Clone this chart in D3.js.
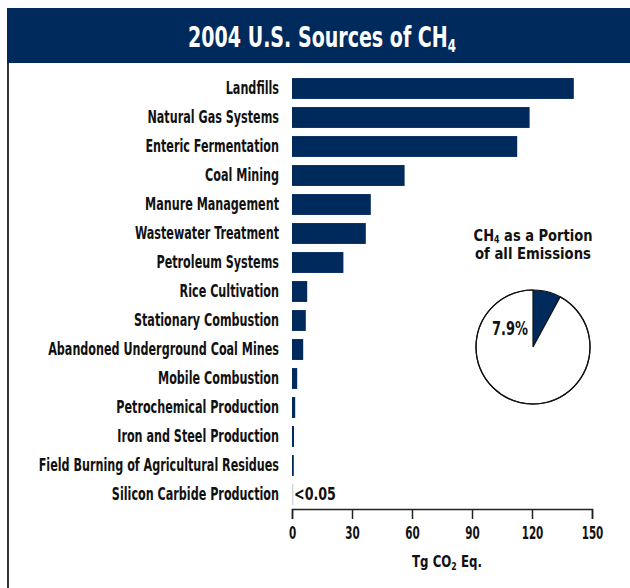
<!DOCTYPE html>
<html>
<head>
<meta charset="utf-8">
<script src="https://cdn.jsdelivr.net/npm/d3@7"></script>
<style>
  body { margin: 0; background: #fff; }
  svg text { font-family: "Liberation Sans Narrow", "DejaVu Sans Condensed", sans-serif; font-weight: bold; }
</style>
</head>
<body>
<div id="chart"></div>
<script>
// CH4 sources 2004, Tg CO2 Eq.
var sources = ["Landfills", "Natural Gas Systems", "Enteric Fermentation", "Coal Mining",
  "Manure Management", "Wastewater Treatment", "Petroleum Systems", "Rice Cultivation",
  "Stationary Combustion", "Abandoned Underground Coal Mines", "Mobile Combustion",
  "Petrochemical Production", "Iron and Steel Production",
  "Field Burning of Agricultural Residues", "Silicon Carbide Production"];
var values = [140.9, 118.8, 112.6, 56.3, 39.4, 36.9, 25.7, 7.6, 6.9, 5.6, 2.6, 1.6, 1.0, 0.9, 0.04];
var xTicks = [0, 30, 60, 90, 120, 150];
var pieShare = [7.9, 92.1];   // CH4 share of all emissions, %

var navy = "#002a5c";

var svg = d3.select("#chart").append("svg").attr("width", 630).attr("height", 588);

// squeeze text horizontally (condensed look), keeping its anchor point
function squeeze(t, sx) {
  var x0 = +t.attr("x") || 0, y0 = +t.attr("y") || 0;
  t.attr("transform", "translate(" + x0 + "," + y0 + ") scale(" + sx + ",1) translate(" + (-x0) + "," + (-y0) + ")");
}
function fitWidth(t, w) {
  var bw = t.node().getBBox().width;
  squeeze(t, w / bw);
}

// banner
svg.append("rect").attr("x", 7).attr("y", 8).attr("width", 630).attr("height", 55).attr("fill", navy);
var title = svg.append("text").attr("x", 322).attr("y", 47).attr("text-anchor", "middle")
  .attr("fill", "#fff").attr("font-size", "29px");
title.append("tspan").text("2004 U.S. Sources of CH");
title.append("tspan").attr("font-size", "18px").attr("dy", 5).text("4");
fitWidth(title, 268);

// left frame line
svg.append("line").attr("x1", 8).attr("x2", 8).attr("y1", 63).attr("y2", 588)
  .attr("stroke", "#000").attr("stroke-width", 1.6);

var x = d3.scaleLinear().domain([0, 150]).range([292, 592]);
var y = d3.scaleBand().domain(sources).range([74, 509]).paddingInner(0.28).paddingOuter(0.14);

var data = sources.map(function (s, i) { return { name: s, value: values[i] }; });

svg.selectAll(".bar").data(data).enter().append("rect")
  .attr("class", "bar")
  .attr("x", x(0))
  .attr("y", function (d) { return y(d.name); })
  .attr("width", function (d) { return Math.max(x(d.value) - x(0), 1.5); })
  .attr("height", y.bandwidth())
  .attr("fill", function (d) { return d.value < 0.05 ? "#d3d8e0" : navy; });

var labels = svg.selectAll(".lbl").data(data).enter().append("text")
  .attr("class", "lbl")
  .attr("x", 279)
  .attr("y", function (d) { return y(d.name) + y.bandwidth() / 2 + 6; })
  .attr("text-anchor", "end")
  .attr("font-size", "17.5px")
  .attr("fill", "#111")
  .text(function (d) { return d.name; });
// common squeeze taken from the longest label
var longest = labels.filter(function (d) { return d.name === "Abandoned Underground Coal Mines"; });
var lblScale = 231 / longest.node().getBBox().width;
labels.each(function () { squeeze(d3.select(this), lblScale); });

// "<0.05" note on the smallest source
var last = data[data.length - 1];
var note = svg.append("text").attr("x", x(0) + 2).attr("y", y(last.name) + y.bandwidth() / 2 + 6)
  .attr("font-size", "17px").attr("fill", "#111").text("<0.05");
fitWidth(note, 42);

// x axis
var axis = svg.append("g").attr("transform", "translate(0,509)")
  .call(d3.axisBottom(x).tickValues(xTicks).tickSize(10).tickPadding(8).tickFormat(d3.format("d")));
axis.select(".domain").attr("stroke", "#222").attr("stroke-width", 1.5);
axis.selectAll(".tick line").attr("stroke", "#222").attr("stroke-width", 1.5);
axis.selectAll(".tick text").attr("font-size", "17px").attr("fill", "#111")
  .attr("font-family", "Liberation Sans Narrow, DejaVu Sans Condensed, sans-serif").attr("font-weight", "bold")
  .attr("transform", "scale(0.68,1)");

var xt = svg.append("text").attr("x", 447).attr("y", 567).attr("text-anchor", "middle")
  .attr("font-size", "15px").attr("fill", "#111");
xt.append("tspan").text("Tg CO");
xt.append("tspan").attr("font-size", "10px").attr("dy", 3).text("2");
xt.append("tspan").attr("dy", -3).text(" Eq.");
fitWidth(xt, 70);

// pie inset
var pcx = 533, pcy = 347, pr = 57;
var pt1 = svg.append("text").attr("x", pcx).attr("y", 241).attr("text-anchor", "middle")
  .attr("font-size", "16.5px").attr("fill", "#111");
pt1.append("tspan").text("CH");
pt1.append("tspan").attr("font-size", "10px").attr("dy", 2).text("4");
pt1.append("tspan").attr("dy", -2).text(" as a Portion");
fitWidth(pt1, 119);
var pt2 = svg.append("text").attr("x", pcx).attr("y", 259.5).attr("text-anchor", "middle")
  .attr("font-size", "16px").attr("fill", "#111").text("of all Emissions");
fitWidth(pt2, 116);

var pie = d3.pie().sort(null).value(function (d) { return d; });
var arc = d3.arc().innerRadius(0).outerRadius(pr);
var pg = svg.append("g").attr("transform", "translate(" + pcx + "," + pcy + ")");
pg.selectAll("path").data(pie(pieShare)).enter().append("path")
  .attr("d", arc)
  .attr("fill", function (d, i) { return i === 0 ? navy : "#fff"; })
  .attr("stroke", function (d, i) { return i === 0 ? "none" : "#111"; })
  .attr("stroke-width", 1.2);
pg.append("circle").attr("r", pr).attr("fill", "none").attr("stroke", "#111").attr("stroke-width", 1.2);
var pl = pg.append("text").attr("x", -23).attr("y", -12).attr("text-anchor", "middle")
  .attr("font-size", "19px").attr("fill", "#111").text(pieShare[0] + "%");
fitWidth(pl, 36);
</script>
</body>
</html>
